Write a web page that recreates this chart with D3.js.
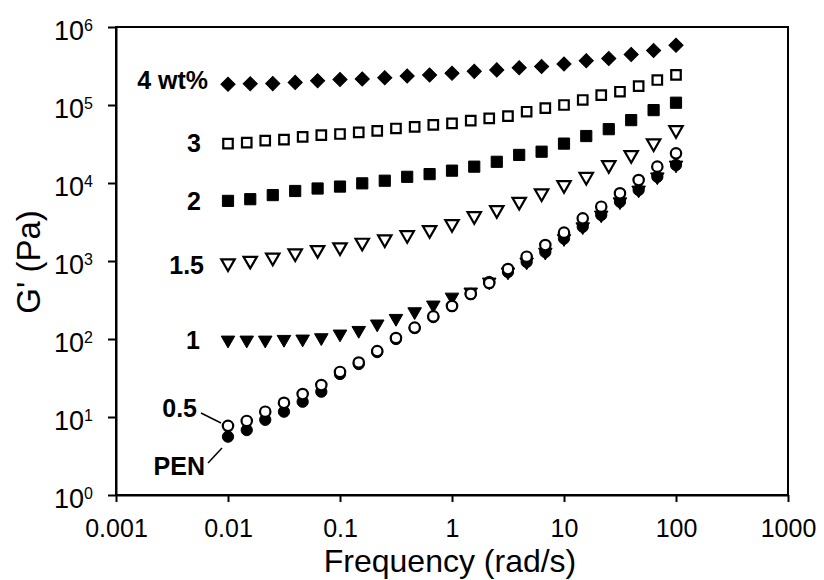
<!DOCTYPE html>
<html>
<head>
<meta charset="utf-8">
<style>
  body { margin: 0; background: #fff; }
  svg text { font-family: "Liberation Sans", Arial, sans-serif; fill: #000; }
</style>
</head>
<body>
<div id="container"></div>
<script src="https://cdn.jsdelivr.net/npm/d3@7"></script>
<script>

// frequencies (rad/s): 5 and 6 points per decade
const freq5 = [0.01, 0.0158, 0.0251, 0.0398, 0.0631, 0.1, 0.158, 0.251, 0.398, 0.631, 1,
  1.58, 2.51, 3.98, 6.31, 10, 15.8, 25.1, 39.8, 63.1, 100];
const freq6 = [0.01, 0.0147, 0.0215, 0.0316, 0.0464, 0.0681, 0.1, 0.147, 0.215, 0.316, 0.464, 0.681, 1,
  1.47, 2.15, 3.16, 4.64, 6.81, 10, 14.7, 21.5, 31.6, 46.4, 68.1, 100];

// G' (Pa)
const g4 = [1.85e5, 1.87e5, 1.88e5, 1.95e5, 2.05e5, 2.12e5, 2.16e5, 2.24e5, 2.36e5, 2.43e5, 2.55e5,
  2.7e5, 2.82e5, 3.0e5, 3.12e5, 3.35e5, 3.7e5, 3.95e5, 4.45e5, 5.0e5, 5.85e5];
const g3 = [3.2e4, 3.3e4, 3.5e4, 3.6e4, 3.9e4, 4.1e4, 4.25e4, 4.45e4, 4.65e4, 5.0e4, 5.25e4, 5.55e4, 5.8e4,
  6.3e4, 6.75e4, 7.2e4, 8.2e4, 9.1e4, 1.0e5, 1.16e5, 1.34e5, 1.48e5, 1.75e5, 2.09e5, 2.43e5];
const g2 = [5.9e3, 6.2e3, 7.0e3, 7.9e3, 8.5e3, 9.0e3, 9.9e3, 1.07e4, 1.2e4, 1.3e4, 1.44e4,
  1.62e4, 1.87e4, 2.29e4, 2.52e4, 3.2e4, 4.0e4, 4.9e4, 6.4e4, 8.6e4, 1.07e5];
const g15 = [935, 1010, 1110, 1255, 1385, 1500, 1720, 1900, 2150, 2500, 2980,
  3780, 4510, 5750, 7380, 9420, 1.2e4, 1.7e4, 2.29e4, 3.23e4, 4.78e4];
const g1 = [97, 97, 97, 99, 100, 104, 116, 129, 156, 184, 224, 273, 345,
  401, 538, 723, 971, 1300, 1940, 2750, 3890, 5750, 8130, 1.2e4, 1.7e4];
const g05 = [7.7, 8.9, 11.7, 15.2, 19.7, 25.7, 37.8, 50, 70, 103, 140, 195, 265,
  378, 522, 789, 1135, 1600, 2310, 3520, 4970, 7380, 1.09e4, 1.62e4, 2.4e4];
const gPEN = [5.6, 6.8, 9.2, 11.7, 15.7, 21.1, 35.6, 47.8, 68, 100, 138, 191, 265,
  378, 538, 723, 971, 1300, 1940, 2750, 3890, 5750, 8130, 1.2e4, 1.7e4];

const xTicks = [0.001, 0.01, 0.1, 1, 10, 100, 1000];
const xTickLabels = ["0.001", "0.01", "0.1", "1", "10", "100", "1000"];
const yTicks = [1, 10, 100, 1e3, 1e4, 1e5, 1e6];
const yExponents = ["0", "1", "2", "3", "4", "5", "6"];

const width = 824, height = 580;
const plotLeft = 116, plotRight = 788, plotTop = 27, plotBottom = 495;

const svg = d3.select("#container")
  .append("svg")
  .attr("width", width)
  .attr("height", height);

const x = d3.scaleLog().domain([0.001, 1000]).range([plotLeft, plotRight]);
const y = d3.scaleLog().domain([1, 1e6]).range([plotBottom, plotTop]);

// frame
svg.append("rect")
  .attr("x", plotLeft).attr("y", plotTop)
  .attr("width", plotRight - plotLeft).attr("height", plotBottom - plotTop)
  .attr("fill", "none").attr("stroke", "#000").attr("stroke-width", 2);

// x axis
const xAxis = svg.append("g")
  .attr("transform", `translate(0,${plotBottom})`)
  .call(d3.axisBottom(x).tickValues(xTicks)
    .tickFormat((d, i) => xTickLabels[i]).tickSize(7).tickPadding(17).tickSizeOuter(0));
xAxis.attr("font-family", null);
xAxis.select(".domain").attr("stroke-width", 2);
xAxis.selectAll(".tick line").attr("stroke-width", 2);
xAxis.selectAll("text").attr("font-size", 25);

// y axis
const yAxis = svg.append("g")
  .attr("transform", `translate(${plotLeft},0)`)
  .call(d3.axisLeft(y).tickValues(yTicks).tickFormat(() => "").tickSize(8).tickSizeOuter(0));
yAxis.attr("font-family", null);
yAxis.select(".domain").attr("stroke-width", 2);
yAxis.selectAll(".tick line").attr("stroke-width", 2);
yAxis.selectAll(".tick text").remove();
yAxis.selectAll(".tick").each(function(d, i) {
  const t = d3.select(this).append("text")
    .attr("x", -23).attr("y", 12)
    .attr("text-anchor", "end")
    .attr("font-size", 27)
    .attr("fill", "#000");
  t.append("tspan").text("10");
  t.append("tspan").attr("font-size", 16).attr("dy", -9).text(yExponents[i]);
});

// axis titles
svg.append("text")
  .attr("x", 450).attr("y", 572)
  .attr("text-anchor", "middle")
  .attr("font-size", 32)
  .text("Frequency (rad/s)");

svg.append("text")
  .attr("transform", "translate(40,262) rotate(-90)")
  .attr("text-anchor", "middle")
  .attr("font-size", 33)
  .text("G' (Pa)");

// series
const series = [
  { freq: freq6, g: gPEN, shape: d3.symbolCircle, size: 100, rot: 0, fill: "#000" },
  { freq: freq6, g: g1, shape: d3.symbolTriangle, size: 80, rot: 180, fill: "#000" },
  { freq: freq6, g: g05, shape: d3.symbolCircle, size: 85, rot: 0, fill: "#fff" },
  { freq: freq5, g: g15, shape: d3.symbolTriangle, size: 78, rot: 180, fill: "#fff" },
  { freq: freq5, g: g2, shape: d3.symbolSquare, size: 125, rot: 0, fill: "#000" },
  { freq: freq6, g: g3, shape: d3.symbolSquare, size: 90, rot: 0, fill: "#fff" },
  { freq: freq5, g: g4, shape: d3.symbolSquare, size: 100, rot: 45, fill: "#000" }
];

series.forEach(s => {
  svg.append("g")
    .selectAll("path")
    .data(s.freq.map((f, i) => [f, s.g[i]]))
    .join("path")
    .attr("d", d3.symbol().type(s.shape).size(s.size))
    .attr("transform", d => `translate(${x(d[0])},${y(d[1])}) rotate(${s.rot})`)
    .attr("fill", s.fill)
    .attr("stroke", "#000")
    .attr("stroke-width", s.fill === "#fff" ? 2.2 : 1);
});

// series labels
const labels = [
  { text: "4 wt%", x: 208, y: 80 },
  { text: "3", x: 201, y: 143 },
  { text: "2", x: 201, y: 201 },
  { text: "1.5", x: 204, y: 265 },
  { text: "1", x: 200, y: 340 },
  { text: "0.5", x: 197, y: 408 },
  { text: "PEN", x: 205, y: 466 }
];
svg.append("g")
  .selectAll("text")
  .data(labels)
  .join("text")
  .attr("x", d => d.x).attr("y", d => d.y + 9)
  .attr("text-anchor", "end")
  .attr("font-size", 25)
  .attr("font-weight", "bold")
  .text(d => d.text);

// leader lines
svg.append("line")
  .attr("x1", 201).attr("y1", 413).attr("x2", 221).attr("y2", 423)
  .attr("stroke", "#000").attr("stroke-width", 1.5);
svg.append("line")
  .attr("x1", 208).attr("y1", 463).attr("x2", 222).attr("y2", 448)
  .attr("stroke", "#000").attr("stroke-width", 1.5);

</script>
</body>
</html>
